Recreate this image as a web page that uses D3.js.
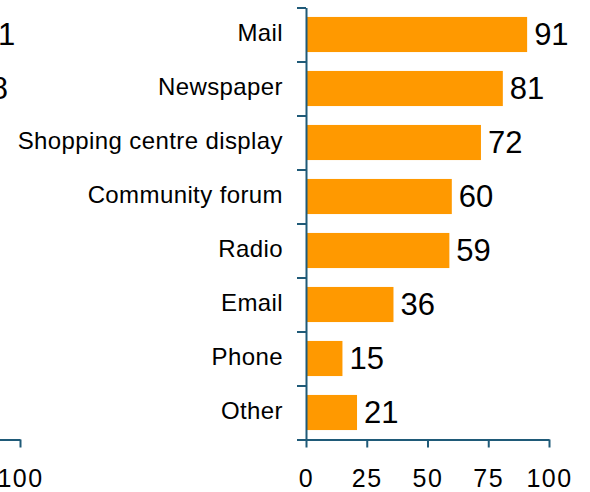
<!DOCTYPE html>
<html lang="en">
<head>
  <meta charset="UTF-8">
  <title>Channels - horizontal bars</title>
  <script src="https://cdn.jsdelivr.net/npm/d3@7"></script>
  <style>
    body { margin: 0; background: #fff; }
    svg text { font-family: "Liberation Sans", Arial, sans-serif; fill: #000; }
    .axis path, .axis line { stroke: #1f5a78; stroke-width: 2px; }
    .axis text { font-size: 25px; letter-spacing: 1.5px; }
    .cat { font-size: 24px; letter-spacing: 0.4px; }
    .val { font-size: 31px; }
  </style>
</head>
<body>
<div id="chart"></div>
<script>
  // right panel
  var categories = ["Mail", "Newspaper", "Shopping centre display", "Community forum",
                    "Radio", "Email", "Phone", "Other"];
  var values = [91, 81, 72, 60, 59, 36, 15, 21];
  // left panel, cut off by the frame: only the tail of its first two rows shows
  var leftValues = [81, 78];
  var xTicks = [0, 25, 50, 75, 100];

  var width = 590, height = 492;
  var plotTop = 7.5, plotBottom = 439.5;
  var barColor = "#ff9900";

  var svg = d3.select("#chart").append("svg")
      .attr("width", width)
      .attr("height", height);

  function drawPanel(vals, cats, x0, x1) {
      var g = svg.append("g");

      var x = d3.scaleLinear().domain([0, 100]).range([x0, x1]);
      var y = d3.scaleBand()
          .domain(d3.range(8))
          .range([plotTop, plotBottom])
          .paddingInner(0.35)
          .paddingOuter(0.175);
      // ticks sit on the band boundaries, not the centres
      var yEdges = d3.scaleLinear().domain([0, 8]).range([plotTop, plotBottom]);

      g.selectAll("rect.bar")
          .data(vals)
          .enter().append("rect")
          .attr("class", "bar")
          .attr("x", x(0))
          .attr("y", (d, i) => y(i))
          .attr("width", d => x(d) - x(0))
          .attr("height", y.bandwidth())
          .attr("fill", barColor);

      g.selectAll("text.val")
          .data(vals)
          .enter().append("text")
          .attr("class", "val")
          .attr("x", d => x(d) + 7)
          .attr("y", (d, i) => y(i) + y.bandwidth() / 2)
          .attr("dy", "0.35em")
          .text(d => d);

      if (cats) {
          g.selectAll("text.cat")
              .data(cats)
              .enter().append("text")
              .attr("class", "cat")
              .attr("text-anchor", "end")
              .attr("x", x(0) - 23)
              .attr("y", (d, i) => y(i) + y.bandwidth() / 2)
              .attr("dy", "0.25em")
              .text(d => d);
      }

      g.append("g")
          .attr("class", "axis")
          .attr("transform", "translate(0," + plotBottom + ")")
          .call(d3.axisBottom(x).tickValues(xTicks).tickSize(8).tickSizeOuter(0).tickPadding(22))
          .call(a => a.selectAll("text").attr("fill", "#000"));

      g.append("g")
          .attr("class", "axis")
          .attr("transform", "translate(" + x(0) + ",0)")
          .call(d3.axisLeft(yEdges).tickValues(d3.range(9)).tickSize(9).tickSizeOuter(0).tickFormat(""));
  }

  drawPanel(leftValues, null, -223, 20);
  drawPanel(values, categories, 306, 549);
</script>
</body>
</html>
